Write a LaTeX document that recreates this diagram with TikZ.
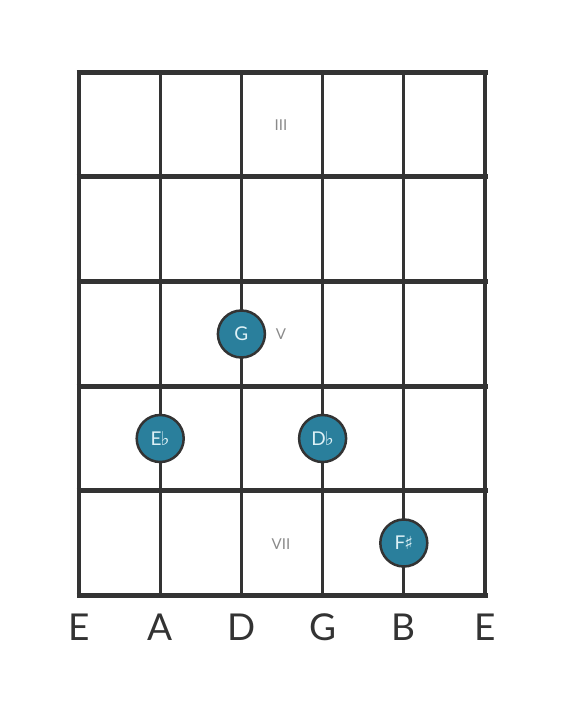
\documentclass[tikz,border=0pt]{standalone}
\usepackage{fontspec}
\setmainfont{Lato}
\newfontfamily\symfont{DejaVu Sans}
\usepackage{xcolor}
\usepackage{tikz}
\usetikzlibrary{positioning}

\definecolor{gridgray}{HTML}{333333}
\definecolor{dotblue}{HTML}{2A7F9C}
\definecolor{dottext}{HTML}{DDF1F6}
\definecolor{labelgray}{HTML}{8A8A8A}

\tikzset{
    stringline/.style={gridgray, line width=3.2pt},
    fretline/.style={gridgray, line width=5pt},
    notedot/.style={circle, draw=gridgray, line width=2.5pt, fill=dotblue, minimum size=47pt, inner sep=0pt, text=dottext, font=\fontsize{19}{19}\selectfont},
    fretnum/.style={text=labelgray, font=\fontsize{15}{15}\selectfont},
    stringname/.style={text=gridgray, font=\fontsize{37}{37}\selectfont}
}

\newcommand{\flt}{{\symfont\fontsize{19}{19}\selectfont ♭}}
\newcommand{\shp}{{\symfont\fontsize{18}{18}\selectfont ♯}}

\begin{document}
\begin{tikzpicture}[x=1pt, y=-1pt]
    \useasboundingbox (0,0) rectangle (566,711);

    % Draw strings
    \foreach \i in {0,...,5} {
        \draw[stringline] (79+81.2*\i, 72.5) -- (79+81.2*\i, 595);
    }

    % Draw frets
    \foreach \j in {0,...,5} {
        \draw[fretline] (76.5, 72.5+104.5*\j) -- (487.5, 72.5+104.5*\j);
    }

    % Fret numbers
    \node[fretnum] (fretiii) at (281, 125) {III};
    \node[fretnum] (fretv) at (281, 334) {V};
    \node[fretnum] (fretvii) at (281, 544) {VII};

    % Notes
    \node[notedot] (noteg) at (241.4, 334) {G};
    \node[notedot] (noteeb) at (160.2, 438.5) {E\kern-1pt\flt};
    \node[notedot] (notedb) at (322.6, 438.5) {D\kern-1pt\flt};
    \node[notedot] (notefs) at (403.8, 543) {F\kern-1pt\shp};

    % String names
    \foreach \s [count=\k from 0] in {E,A,D,G,B,E} {
        \node[stringname] (name\k) at (79+81.2*\k, 627) {\s};
    }
\end{tikzpicture}
\end{document}
